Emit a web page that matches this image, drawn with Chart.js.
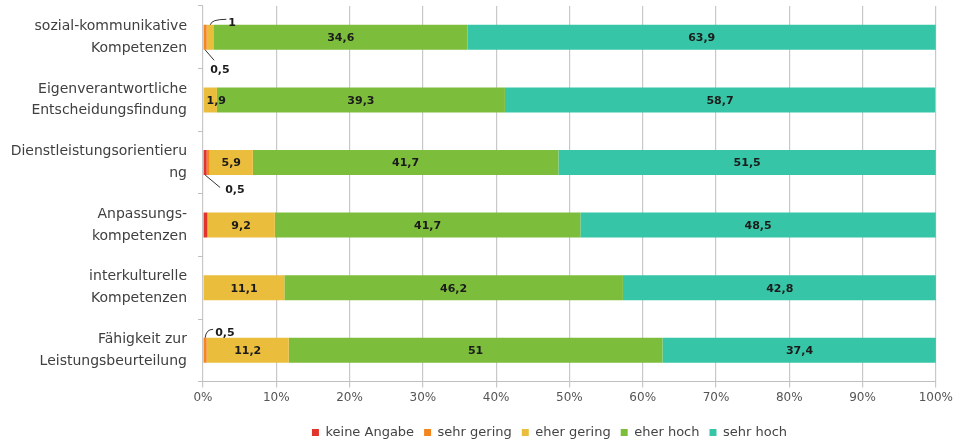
<!DOCTYPE html>
<html>
<head>
<meta charset="utf-8">
<script src="https://cdn.jsdelivr.net/npm/chart.js@4"></script>
<style>
  html, body { margin: 0; padding: 0; background: #fff; }
  #wrap { width: 956px; height: 441px; }
</style>
</head>
<body>
<div id="wrap"><canvas id="chart" width="956" height="441"></canvas></div>
<script>
// Kategorien (Zeilen von oben nach unten)
const categories = [
  ["sozial-kommunikative", "Kompetenzen"],
  ["Eigenverantwortliche", "Entscheidungsfindung"],
  ["Dienstleistungsorientieru", "ng"],
  ["Anpassungs-", "kompetenzen"],
  ["interkulturelle", "Kompetenzen"],
  ["Fähigkeit zur", "Leistungsbeurteilung"]
];

// Werte in Prozent
const keineAngabe = [0, 0, 0.5, 0.6, 0, 0];
const sehrGering  = [0.5, 0, 0.4, 0, 0, 0.5];
const eherGering  = [1, 1.9, 5.9, 9.2, 11.1, 11.2];
const eherHoch    = [34.6, 39.3, 41.7, 41.7, 46.2, 51];
const sehrHoch    = [63.9, 58.7, 51.5, 48.5, 42.8, 37.4];

const xTicks = [0, 10, 20, 30, 40, 50, 60, 70, 80, 90, 100];

// Beschriftungen außerhalb (kleine Segmente): Datensatz, Zeile, Versatz, Linienart
const callouts = [
  { ds: 2, row: 0, dx: 18, dy: -15, text: "1", line: "hook" },
  { ds: 1, row: 0, dx: 5, dy: 32, text: "0,5", line: "down" },
  { ds: 0, row: 2, dx: 20, dy: 27, text: "0,5", line: "diag" },
  { ds: 1, row: 5, dx: 10, dy: -18, text: "0,5", line: "hook" }
];

const FONT = "'DejaVu Sans', Lato, sans-serif";
const fmt = v => String(v).replace(".", ",");

const labelPlugin = {
  id: "segLabels",
  beforeDraw(chart) {
    // Legende wie im Original etwas nach rechts unten versetzen
    const lg = chart.legend;
    if (lg && !lg._moved) {
      lg.left += 81; lg.right += 81;
      lg.top += 8; lg.bottom += 8;
      lg._moved = true;
    }
  },
  afterDatasetsDraw(chart) {
    const ctx = chart.ctx;
    ctx.save();
    ctx.font = "bold 11px " + FONT;
    ctx.fillStyle = "#1b1b1b";
    ctx.textAlign = "center";
    ctx.textBaseline = "middle";
    // Werte innerhalb der Balken
    chart.data.datasets.forEach((ds, di) => {
      if (di < 2) return;
      chart.getDatasetMeta(di).data.forEach((bar, i) => {
        const v = ds.data[i];
        if (v < 1.5) return;
        const cx = (bar.x + bar.base) / 2;
        ctx.fillText(fmt(v), cx + (v < 3 ? 6 : 0), bar.y + 1);
      });
    });
    // Werte mit Führungslinie
    ctx.strokeStyle = "#333";
    ctx.lineWidth = 1;
    ctx.textAlign = "left";
    callouts.forEach(c => {
      const bar = chart.getDatasetMeta(c.ds).data[c.row];
      const h = bar.height / 2;
      const sx = (bar.x + bar.base) / 2;
      const sy = c.dy < 0 ? bar.y - h : bar.y + h;
      const tx = sx + c.dx;
      const ty = bar.y + c.dy;
      ctx.beginPath();
      ctx.moveTo(sx, sy);
      if (c.line === "hook") {
        ctx.quadraticCurveTo(sx + 1, ty - 3, tx - 2, ty - 3);
      } else if (c.line === "down") {
        ctx.lineTo(tx + 4, ty - 9);
      } else {
        ctx.lineTo(tx - 5, ty - 2);
      }
      ctx.stroke();
      ctx.fillText(c.text, tx, ty + 1);
    });
    ctx.restore();
  }
};

const common = { barPercentage: 0.4, categoryPercentage: 1.0, borderWidth: 0 };

new Chart(document.getElementById("chart"), {
  type: "bar",
  data: {
    labels: categories,
    datasets: [
      { label: "keine Angabe", data: keineAngabe, backgroundColor: "#e3342b", ...common },
      { label: "sehr gering", data: sehrGering, backgroundColor: "#f3861f", ...common },
      { label: "eher gering", data: eherGering, backgroundColor: "#ebbd3c", ...common },
      { label: "eher hoch", data: eherHoch, backgroundColor: "#7dbd3c", ...common },
      { label: "sehr hoch", data: sehrHoch, backgroundColor: "#36c6a7", ...common }
    ]
  },
  plugins: [labelPlugin],
  options: {
    indexAxis: "y",
    responsive: false,
    animation: false,
    layout: { padding: { top: 6, right: 19, bottom: 0, left: 0 } },
    scales: {
      x: {
        stacked: true,
        min: 0,
        max: 100,
        afterBuildTicks: s => { s.ticks = xTicks.map(v => ({ value: v })); },
        ticks: {
          callback: v => v + "%",
          color: "#555",
          font: { size: 12, family: FONT },
          padding: 3
        },
        grid: { color: "#c8c8c8", tickLength: 6, lineWidth: 1.2 },
        border: { color: "#c0c0c0" }
      },
      y: {
        stacked: true,
        afterFit: s => { s.width = 203; s.paddingTop = 0; s.paddingBottom = 0; },
        ticks: {
          color: "#404040",
          font: { size: 14, family: FONT, lineHeight: 1.55 },
          padding: 11
        },
        grid: { offset: true, drawOnChartArea: false, tickLength: 5, color: "#c0c0c0" },
        border: { display: false }
      }
    },
    plugins: {
      legend: {
        position: "bottom",
        labels: {
          boxWidth: 7,
          boxHeight: 7,
          padding: 10,
          color: "#444",
          font: { size: 13, family: FONT }
        }
      },
      tooltip: { enabled: false }
    }
  }
});
</script>
</body>
</html>
